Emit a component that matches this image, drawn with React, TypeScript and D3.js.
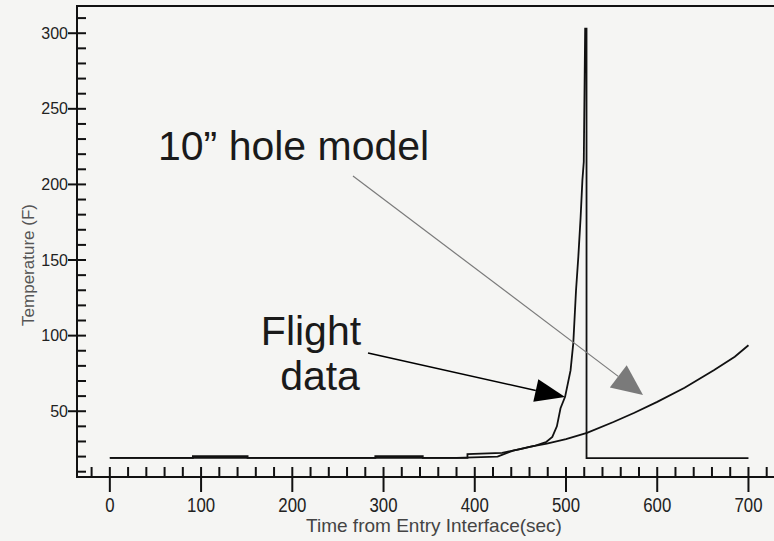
import React from 'react';
import * as d3 from 'd3';

// flight data (sensor), time in sec / temperature in F
const flightTime = [0, 91, 91, 151, 151, 291, 291, 343, 343, 392, 392, 430, 450, 465, 478, 485, 490, 494, 499, 505, 508, 511, 513.5, 516, 518, 519.5, 521, 522.5, 522.5, 700];
const flightTemp = [19.2, 19.2, 20.3, 20.3, 19.2, 19.2, 20.3, 20.3, 19.2, 19.2, 21.6, 22.5, 25, 27, 29.5, 33, 40, 52, 59.5, 77, 95, 130, 152, 178, 203, 215, 303, 303, 19, 19];

// 10" hole model
const modelTime = [0, 380, 425, 442, 460, 479, 500, 523, 552, 575, 600, 630, 662, 685, 700];
const modelTemp = [19.2, 19.2, 20, 24, 26.5, 28.6, 31.5, 35.7, 42.9, 49, 56.2, 65.5, 77.1, 86, 93.6];

const xMajor = [0, 100, 200, 300, 400, 500, 600, 700];
const yMajor = [50, 100, 150, 200, 250, 300];

const W = 774;
const H = 541;
const font = '"Liberation Sans", Arial, sans-serif';

const x = d3.scaleLinear().domain([-36, 728]).range([77, 774]);
const y = d3.scaleLinear().domain([6.5, 318]).range([477, 6]);

const xMinor = d3.range(-20, 721, 20).filter((d) => d % 100 !== 0);
const yMinor = d3.range(10, 311, 10).filter((d) => d % 50 !== 0);

const line = d3
  .line<[number, number]>()
  .x((d) => x(d[0]))
  .y((d) => y(d[1]));

const flight = flightTime.map((t, i) => [t, flightTemp[i]] as [number, number]);
const model = modelTime.map((t, i) => [t, modelTemp[i]] as [number, number]);

// arrow from (t0,v0) to tip (t1,v1), head drawn in pixel space
function Arrow({ from, to, len, half, color, width }) {
  const x0 = x(from[0]);
  const y0 = y(from[1]);
  const x1 = x(to[0]);
  const y1 = y(to[1]);
  const dx = x1 - x0;
  const dy = y1 - y0;
  const d = Math.hypot(dx, dy);
  const ux = dx / d;
  const uy = dy / d;
  const bx = x1 - ux * len;
  const by = y1 - uy * len;
  const pts = [
    [x1, y1],
    [bx - uy * half, by + ux * half],
    [bx + uy * half, by - ux * half],
  ];
  return (
    <g>
      <line x1={x0} y1={y0} x2={bx} y2={by} stroke={color} strokeWidth={width} />
      <polygon points={pts.map((p) => p.join(',')).join(' ')} fill={color} />
    </g>
  );
}

export default function App() {
  const x0 = x(-36);
  const yb = y(6.5);
  return (
    <svg
      width={W}
      height={H}
      style={{ position: 'absolute', left: 0, top: 0, background: '#f5f5f3' }}
      fontFamily={font}
    >
      {/* axis titles */}
      <text x={434} y={532} textAnchor="middle" fontSize={19} fill="#444">
        Time from Entry Interface(sec)
      </text>
      <text transform="translate(34,265) rotate(-90)" textAnchor="middle" fontSize={17} fill="#555">
        Temperature (F)
      </text>

      {/* series */}
      <path d={line(model)} fill="none" stroke="#111" strokeWidth={1.8} />
      <path d={line(flight)} fill="none" stroke="#111" strokeWidth={1.8} />

      {/* annotations */}
      <text x={x(52.8)} y={y(216.2)} fontSize={41} fill="#1a1a1a">
        10” hole model
      </text>
      <text x={x(220.5)} y={y(93.8)} textAnchor="middle" fontSize={41} fill="#1a1a1a">
        Flight
      </text>
      <text x={x(230.4)} y={y(64)} textAnchor="middle" fontSize={41} fill="#1a1a1a">
        data
      </text>
      <Arrow from={[266.5, 205.6]} to={[584.4, 60.7]} len={31} half={14} color="#7a7a7a" width={1.2} />
      <Arrow from={[283, 88.5]} to={[499, 59.4]} len={30} half={11.5} color="#000" width={1.6} />

      {/* y ticks */}
      <g stroke="#111" strokeWidth={2}>
        {yMinor.map((d) => (
          <path key={'ym' + d} d={`M${x0},${y(d)}H${x0 + 9}`} />
        ))}
        {yMajor.map((d) => (
          <path key={'yM' + d} d={`M${x0 - 9},${y(d)}H${x0 + 9}`} />
        ))}
        {xMinor.map((d) => (
          <path key={'xm' + d} d={`M${x(d)},${yb - 10}V${yb}`} />
        ))}
        {xMajor.map((d) => (
          <path key={'xM' + d} d={`M${x(d)},${yb - 10}V${yb + 15}`} />
        ))}
      </g>
      {yMajor.map((d) => (
        <text key={'yt' + d} x={x0 - 9} y={y(d) + 5.5} textAnchor="end" fontSize={16} fill="#222">
          {d}
        </text>
      ))}
      {xMajor.map((d) => (
        <text
          key={'xt' + d}
          transform={`translate(${x(d)},512) scale(0.8,1)`}
          textAnchor="middle"
          fontSize={21}
          fill="#222"
        >
          {d}
        </text>
      ))}

      {/* frame */}
      <path d={`M${W},${y(318)}H${x0}V${yb}H${W}`} fill="none" stroke="#111" strokeWidth={2} />
    </svg>
  );
}
